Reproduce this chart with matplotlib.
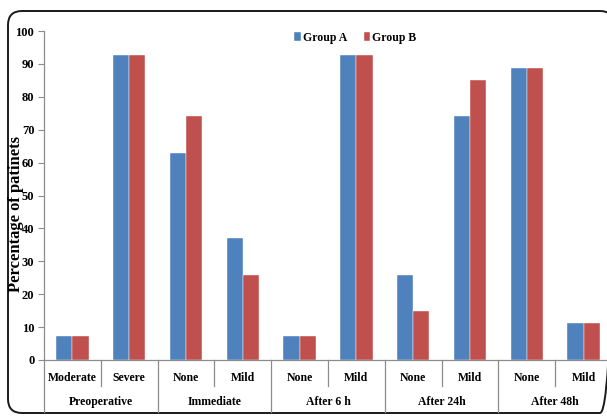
import matplotlib
matplotlib.use("Agg")
import matplotlib.pyplot as plt
from matplotlib.patches import FancyBboxPatch
import numpy as np

# Pain severity per follow-up period, percentage of patients
periods = ["Preoperative", "Immediate", "After 6 h", "After 24h", "After 48h"]
grades = ["Moderate", "Severe", "None", "Mild", "None", "Mild", "None", "Mild", "None", "Mild"]
group_a = [7.4, 92.6, 63.0, 37.0, 7.4, 92.6, 25.9, 74.1, 88.9, 11.1]
group_b = [7.4, 92.6, 74.1, 25.9, 7.4, 92.6, 14.8, 85.2, 88.9, 11.1]

BLUE = "#4F81BD"
RED = "#C0504D"
GRID = "#8C8C8C"

plt.rcParams["font.family"] = ["Liberation Serif", "DejaVu Serif"]
plt.rcParams["font.weight"] = "bold"

W, H = 607, 417
fig = plt.figure(figsize=(W / 100, H / 100), dpi=100)

# rounded frame around the whole chart (pixel coordinates)
bg = fig.add_axes([0, 0, 1, 1], zorder=-1)
bg.set_xlim(0, W)
bg.set_ylim(H, 0)
bg.axis("off")
bg.add_patch(FancyBboxPatch((8, 11), 606, 402, boxstyle="round,pad=0,rounding_size=14",
                            fill=False, ec="#1a1a1a", lw=1.4))

x0, x1, ytop, ybot = 44, 612, 31, 360
ax = fig.add_axes([x0 / W, (H - ybot) / H, (x1 - x0) / W, (ybot - ytop) / H])

x = np.arange(len(grades))
bw = 0.285
ax.bar(x - bw / 2, group_a, bw, color=BLUE, label="Group A", edgecolor="white", linewidth=0.3)
ax.bar(x + bw / 2, group_b, bw, color=RED, label="Group B", edgecolor="white", linewidth=0.3)

ax.set_xlim(-0.5, len(grades) - 0.5)
ax.set_ylim(0, 100)
ax.set_yticks(np.arange(0, 101, 10))
ax.tick_params(axis="y", direction="out", length=4, width=0.8, color=GRID,
               labelsize=9, pad=3)
for lab in ax.get_yticklabels():
    lab.set_fontweight("bold")
ax.set_xticks([])
for side in ["top", "right"]:
    ax.spines[side].set_visible(False)
for side in ["left", "bottom"]:
    ax.spines[side].set_color(GRID)
    ax.spines[side].set_linewidth(0.9)

ax.text(-0.05, 0.444, "Percentage of patinets", transform=ax.transAxes, rotation=90,
        ha="center", va="center", fontsize=12, fontweight="bold")

# two-level category axis
trans = ax.get_xaxis_transform()
group_edges = [-0.5, 1.5, 3.5, 5.5, 7.5, 9.5]
for i in range(len(grades) + 1):
    xe = i - 0.5
    depth = -0.158 if xe in group_edges else -0.079
    ax.plot([xe, xe], [0, depth], transform=trans, color=GRID, lw=0.9, clip_on=False)
for i, g in enumerate(grades):
    ax.text(i, -0.055, g, transform=trans, ha="center", va="center",
            fontsize=8.5, fontweight="bold")
for j, p in enumerate(periods):
    ax.text(2 * j + 0.5, -0.128, p, transform=trans, ha="center", va="center",
            fontsize=8.5, fontweight="bold")

ax.legend(loc="upper center", bbox_to_anchor=(0.548, 1.03), ncol=2, frameon=False,
          prop={"size": 8.5, "weight": "bold"}, handlelength=0.55, handleheight=0.75,
          handletextpad=0.15, columnspacing=1.4)

fig.savefig("out.png", dpi=100)
